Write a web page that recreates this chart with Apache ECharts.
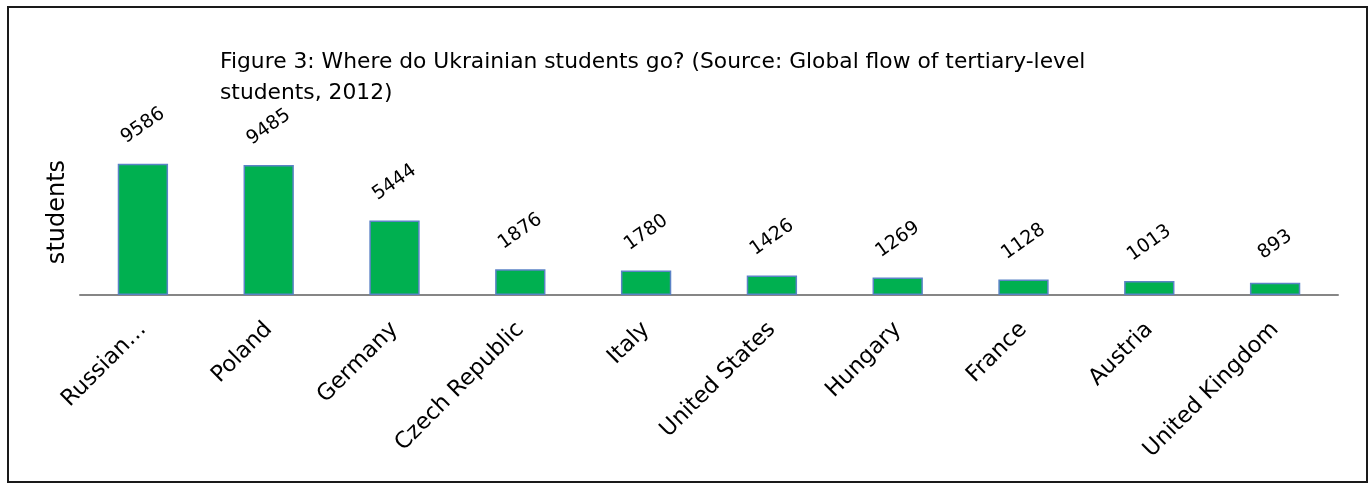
<!DOCTYPE html>
<html>
<head>
<meta charset="utf-8">
<script src="https://cdn.jsdelivr.net/npm/echarts@6/dist/echarts.min.js"></script>
<style>
    html, body { margin: 0; padding: 0; background: #fff; }
    #chart { width: 1371px; height: 485px; }
</style>
</head>
<body>
<div id="chart"></div>
<script>
    var countries = ['Russian…', 'Poland', 'Germany', 'Czech Republic', 'Italy',
        'United States', 'Hungary', 'France', 'Austria', 'United Kingdom'];
    var students = [9586, 9485, 5444, 1876, 1780, 1426, 1269, 1128, 1013, 893];

    var font = '"DejaVu Sans", sans-serif';
    var mychart = echarts.init(document.getElementById('chart'));

    var option = {
        animation: false,
        title: {
            text: 'Figure 3: Where do Ukrainian students go? (Source: Global flow of tertiary-level\nstudents, 2012)',
            left: 220,
            top: 47,
            padding: 0,
            textStyle: {
                fontFamily: font,
                fontSize: 21.8,
                fontWeight: 'normal',
                color: '#000',
                lineHeight: 31
            }
        },
        graphic: [{
            type: 'rect',
            shape: { x: 8, y: 7, width: 1359, height: 475 },
            style: { fill: 'none', stroke: '#1a1a1a', lineWidth: 2 }
        }, {
            type: 'text',
            x: 58,
            y: 212,
            rotation: Math.PI / 2,
            style: {
                text: 'students',
                fontFamily: font,
                fontSize: 24,
                fill: '#000',
                align: 'center',
                verticalAlign: 'middle'
            }
        }],
        grid: { left: 80, right: 33, top: 158, bottom: 190 },
        xAxis: {
            type: 'category',
            data: countries,
            axisLine: { lineStyle: { color: '#868686', width: 2 } },
            axisTick: { show: false },
            axisLabel: {
                interval: 0,
                rotate: 45,
                margin: 31,
                fontFamily: font,
                fontSize: 22.5,
                color: '#000'
            }
        },
        yAxis: {
            type: 'value',
            min: 0,
            max: 10000,
            show: false
        },
        series: [{
            type: 'bar',
            data: students,
            barWidth: '40%',
            itemStyle: {
                color: '#00B050',
                borderColor: '#5B83C6',
                borderWidth: 1.5
            },
            label: {
                show: true,
                position: 'top',
                distance: 38,
                rotate: 35,
                align: 'center',
                verticalAlign: 'middle',
                fontFamily: font,
                fontSize: 19,
                color: '#000'
            }
        }]
    };
    mychart.setOption(option);
</script>
</body>
</html>
